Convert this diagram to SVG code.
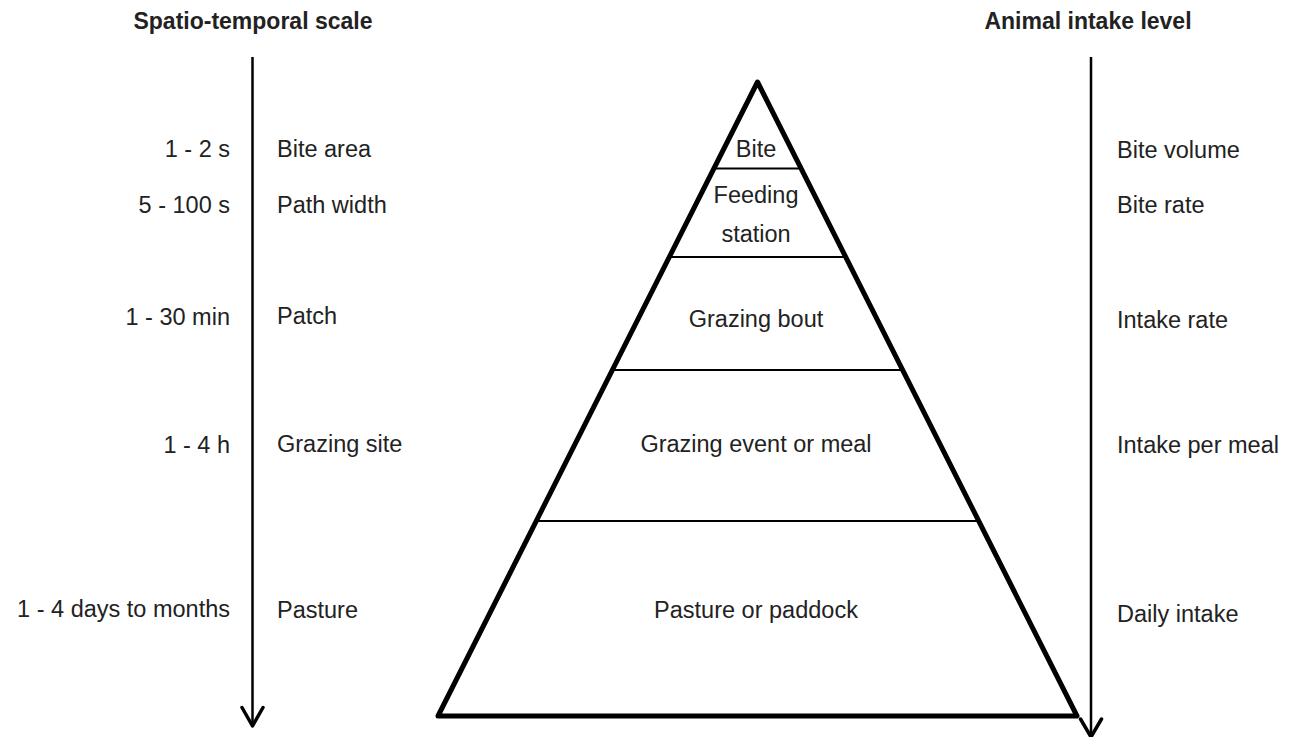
<svg xmlns="http://www.w3.org/2000/svg" width="1290" height="737" viewBox="0 0 1290 737">
<style>
  text { font-family: "Liberation Sans", Arial, Helvetica, sans-serif; fill: #222; }
  .t { font-size: 23.5px; }
  .h { font-size: 23px; font-weight: bold; }
  .r { text-anchor: end; }
  .m { text-anchor: middle; }
  .axis { stroke: #000; stroke-width: 2.5; fill: none; }
  .head { stroke: #000; stroke-width: 3.5; fill: none; stroke-linecap: round; stroke-linejoin: round; }
  .pyr { stroke: #000; stroke-width: 5; fill: none; stroke-linejoin: round; }
  .div { stroke: #000; stroke-width: 2; }
</style>
<rect width="1290" height="737" fill="#fff"/>

<g id="headers">
  <text class="h m" x="253" y="29">Spatio-temporal scale</text>
  <text class="h m" x="1088" y="29">Animal intake level</text>
</g>

<g id="connectors">
  <line class="axis" x1="252.5" y1="57" x2="252.5" y2="725"/>
  <polyline class="head" points="242,707.5 252.5,726 263,707.5"/>
  <line class="axis" x1="1091" y1="57" x2="1091" y2="736"/>
  <polyline class="head" points="1080.5,719 1091,737 1101.5,719"/>
</g>

<g id="scale-left">
  <text class="t r" x="230" y="157">1 - 2 s</text>
  <text class="t r" x="230" y="213">5 - 100 s</text>
  <text class="t r" x="230" y="325">1 - 30 min</text>
  <text class="t r" x="230" y="453">1 - 4 h</text>
  <text class="t r" x="230" y="617">1 - 4 days to months</text>
</g>

<g id="scale-units">
  <text class="t" x="277" y="157">Bite area</text>
  <text class="t" x="277" y="213">Path width</text>
  <text class="t" x="277" y="324">Patch</text>
  <text class="t" x="277" y="452">Grazing site</text>
  <text class="t" x="277" y="618">Pasture</text>
</g>

<g id="pyramid">
  <polygon class="pyr" points="757.5,82 1077,716 438,716"/>
  <line class="div" x1="715" y1="168.5" x2="800" y2="168.5"/>
  <line class="div" x1="671" y1="257" x2="844" y2="257"/>
  <line class="div" x1="614" y1="370" x2="901" y2="370"/>
  <line class="div" x1="537" y1="521" x2="978" y2="521"/>
</g>

<g id="level-bite">
  <text class="t m" x="756" y="157">Bite</text>
</g>
<g id="level-feeding-station">
  <text class="t m" x="756" y="203">Feeding</text>
  <text class="t m" x="756" y="242">station</text>
</g>
<g id="level-grazing-bout">
  <text class="t m" x="756" y="327">Grazing bout</text>
</g>
<g id="level-grazing-event">
  <text class="t m" x="756" y="452">Grazing event or meal</text>
</g>
<g id="level-pasture">
  <text class="t m" x="756" y="618">Pasture or paddock</text>
</g>

<g id="intake-right">
  <text class="t" x="1117" y="158">Bite volume</text>
  <text class="t" x="1117" y="213">Bite rate</text>
  <text class="t" x="1117" y="328">Intake rate</text>
  <text class="t" x="1117" y="453">Intake per meal</text>
  <text class="t" x="1117" y="622">Daily intake</text>
</g>
</svg>
